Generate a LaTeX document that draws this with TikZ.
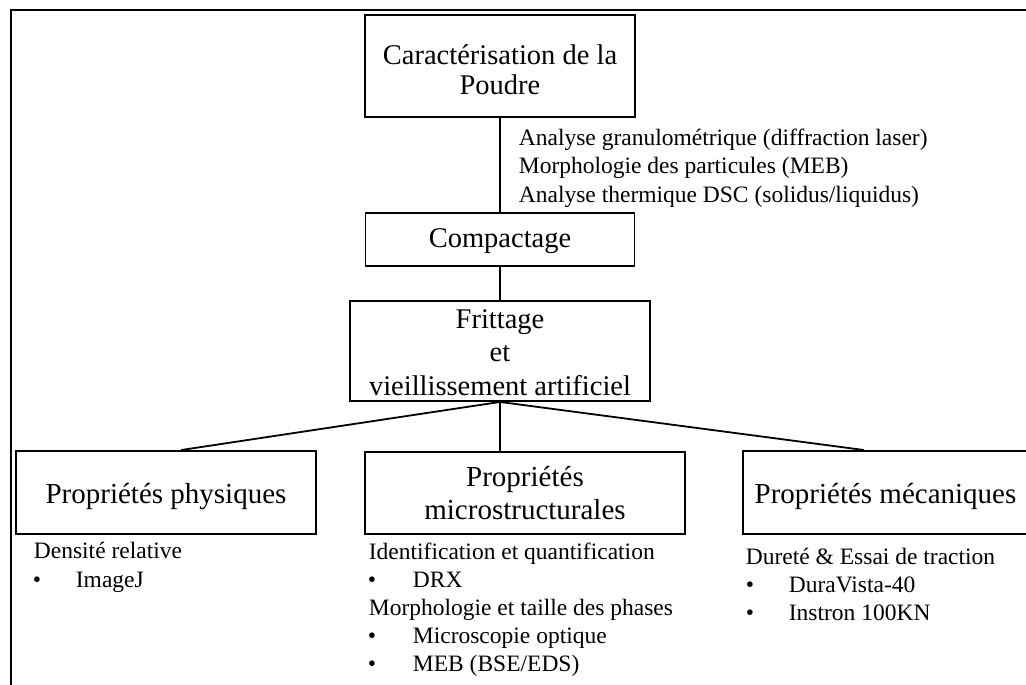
\documentclass[tikz,border=0pt]{standalone}
\usepackage{fontspec}
\setmainfont{Liberation Serif}
\usetikzlibrary{calc}
\begin{document}
\begin{tikzpicture}[x=1pt,y=-1pt,line width=1.8pt,
  box/.style={draw,line width=1.9pt,align=center,inner sep=0pt},
  big/.style={font=\fontsize{28.5}{30}\selectfont},
  lbl/.style={anchor=base west,inner sep=0pt,font=\fontsize{23.5}{28}\selectfont},
  bul/.style={anchor=base west,inner sep=0pt,font=\fontsize{23.5}{28}\selectfont}]
\useasboundingbox (0,0) rectangle (1026,685);
\begin{scope}
\clip (0,0) rectangle (1026,685);
\draw[line width=2pt] (11,10) rectangle (1040,700);
% boxes
\node[box,big,minimum width=270pt,minimum height=102pt] (poudre) at (500,66)
  {\rule{0pt}{28pt}Caractérisation de la\\Poudre};
\node[box,big,minimum width=269pt,minimum height=53pt,text height=20pt,text depth=5pt] (compact) at (500,239.5)
  {Compactage};
\node[box,font=\fontsize{28.5}{33.5}\selectfont,minimum width=300pt,minimum height=100pt] (frit) at (500,351)
  {\rule{0pt}{22pt}Frittage\\et\\vieillissement artificiel};
\node[box,font=\fontsize{29}{33}\selectfont,minimum width=300pt,minimum height=83pt,text height=21pt,text depth=0pt] (phys) at (166,492.5)
  {Propriétés physiques};
\node[box,font=\fontsize{29}{33}\selectfont,minimum width=320pt,minimum height=82pt] (micro) at (525,493)
  {Propriétés\\microstructurales};
\node[box,font=\fontsize{29}{33}\selectfont,minimum width=285pt,minimum height=83pt,text height=21pt,text depth=0pt] (meca) at (885.5,492.5)
  {Propriétés mécaniques};
% connectors
\draw (poudre.south) -- (compact.north);
\draw (compact.south) -- (frit.north);
\draw (frit.south) -- ([xshift=166pt]phys.north west);
\draw (frit.south) -- (frit.south |- micro.north);
\draw (frit.south) -- ([xshift=122pt]meca.north west);
% powder characterisation texts
\node[lbl] (a1) at (518,145) {Analyse granulométrique (diffraction laser)};
\node[lbl] (a2) at (518,173.5) {Morphologie des particules (MEB)};
\node[lbl] (a3) at (518,202) {Analyse thermique DSC (solidus/liquidus)};
% physical
\node[lbl] (p1) at (33,558) {Densité relative};
\node[bul] (pb1) at (32,587) {•};
\node[lbl] (p2) at (75,587) {ImageJ};
% microstructural
\node[lbl] (m1) at (368,559) {Identification et quantification};
\node[bul] (mb1) at (367,587) {•};
\node[lbl] (m2) at (412,587) {DRX};
\node[lbl] (m3) at (368,615) {Morphologie et taille des phases};
\node[bul] (mb2) at (367,643) {•};
\node[lbl] (m4) at (412,643) {Microscopie optique};
\node[bul] (mb3) at (367,671) {•};
\node[lbl] (m5) at (412,671) {MEB (BSE/EDS)};
% mechanical
\node[lbl] (c1) at (745,564) {Dureté \& Essai de traction};
\node[bul] (cb1) at (745,592) {•};
\node[lbl] (c2) at (788,592) {DuraVista-40};
\node[bul] (cb2) at (745,620) {•};
\node[lbl] (c3) at (788,620) {Instron 100KN};
\end{scope}
\end{tikzpicture}
\end{document}
